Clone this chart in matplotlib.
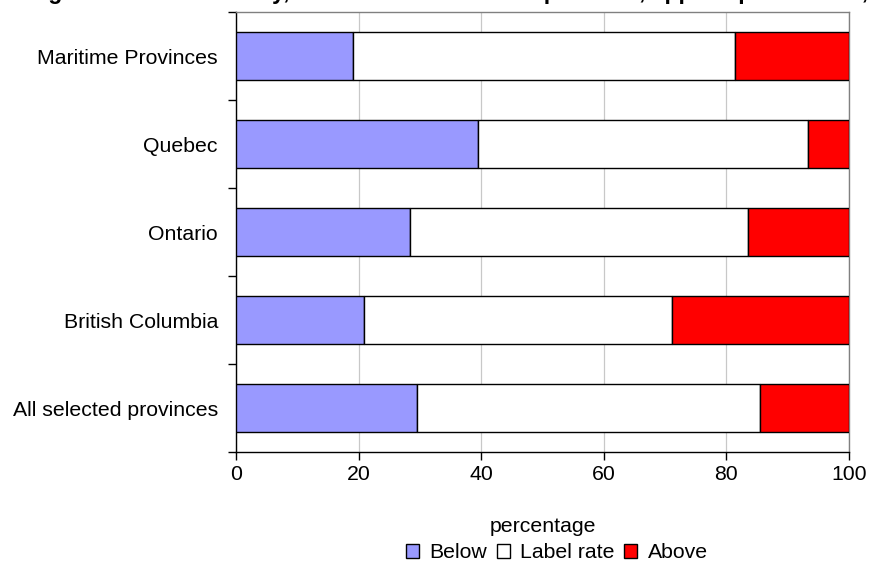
import matplotlib
matplotlib.use("Agg")
import matplotlib.pyplot as plt
from matplotlib.patches import Patch
import numpy as np

plt.rcParams['font.family'] = ['Liberation Sans', 'DejaVu Sans']

# Share of fields by nitrogen rate relative to the label rate (%)
provinces = ["Maritime Provinces", "Quebec", "Ontario", "British Columbia",
             "All selected provinces"]
below = [19.1, 39.4, 28.4, 20.8, 29.6]
label_rate = [62.3, 53.9, 55.1, 50.3, 55.8]
above = [18.6, 6.7, 16.5, 28.9, 14.6]
series_names = ["Below", "Label rate", "Above"]
x_ticks = [0, 20, 40, 60, 80, 100]
title = ("Figure 7: Nitrogen fertilizer intensity, relative to label rate in "
         "province, applied per hectare, by region")

FS = 15.3
W, H = 870, 566
fig = plt.figure(figsize=(W / 100, H / 100), dpi=100)
ax = fig.add_axes([236 / W, 1 - 452 / H, (849 - 236) / W, (452 - 12) / H])

colors = ["#9999FF", "#FFFFFF", "#FF0000"]
ypos = np.arange(len(provinces))
left = np.zeros(len(provinces))
for vals, col, name in zip([below, label_rate, above], colors, series_names):
    ax.barh(ypos, vals, left=left, height=0.54, color=col,
            edgecolor="#000000", linewidth=1.0, label=name, zorder=3)
    left += np.array(vals)

ax.set_xlim(0, 100)
ax.set_ylim(len(provinces) - 0.5, -0.5)
ax.set_xticks(x_ticks)
ax.set_xticklabels([str(t) for t in x_ticks], fontsize=FS)
ax.set_yticks(ypos)
ax.set_yticklabels(provinces, fontsize=FS)
ax.tick_params(axis="y", which="major", length=0, pad=13)
ax.set_yticks(np.arange(-0.5, len(provinces), 1.0), minor=True)
ax.tick_params(axis="y", which="minor", length=6, width=1, color="#000000")
ax.tick_params(axis="x", length=6, width=1, pad=3)
ax.xaxis.grid(True, color="#C8C8C8", linewidth=0.9, zorder=0)
ax.set_axisbelow(True)

for side in ["left", "bottom"]:
    ax.spines[side].set_color("#000000")
    ax.spines[side].set_linewidth(1.0)
for side in ["top", "right"]:
    ax.spines[side].set_color("#808080")
    ax.spines[side].set_linewidth(1.0)

ax.set_xlabel("percentage", fontsize=FS, labelpad=24)

handles = [Patch(facecolor=c, edgecolor="#000000", linewidth=1.0) for c in colors]
fig.legend(handles, series_names, loc="center", bbox_to_anchor=(557 / W, 1 - 553 / H),
           ncol=3, frameon=False, fontsize=FS, handlelength=0.6, handleheight=0.6,
           handletextpad=0.5, columnspacing=0.45, borderpad=0)

fig.text(0.5, 1.0 + 0.5 / H, title, ha="center", va="baseline",
         fontsize=16.5, fontweight="bold")

fig.savefig("out.png", dpi=100)
